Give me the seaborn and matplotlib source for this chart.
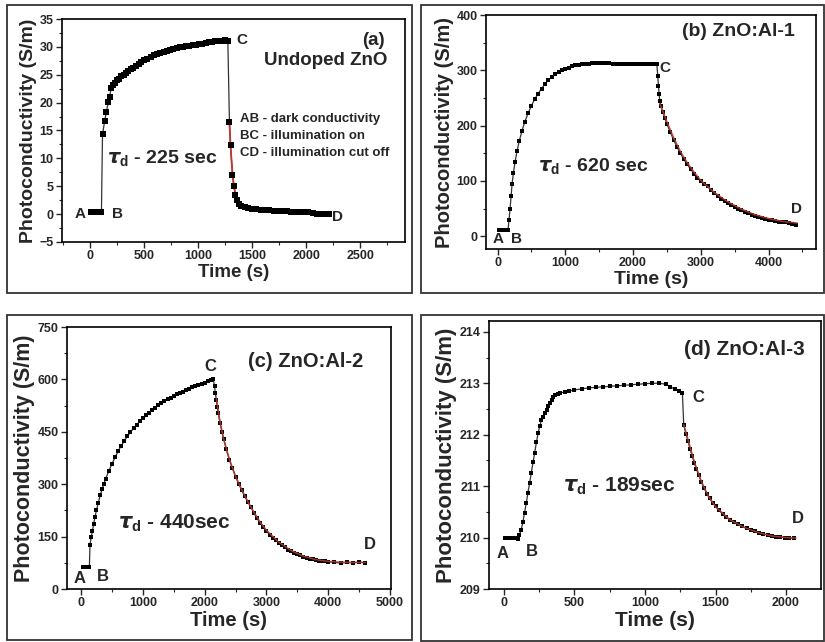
import matplotlib
matplotlib.use("Agg")
import matplotlib.pyplot as plt
from matplotlib.patches import Rectangle
from matplotlib.ticker import MultipleLocator, AutoMinorLocator
import seaborn as sns

# ---- panel (a) undoped ZnO ----
a_t = [10, 30, 50, 70, 90, 105,
       115, 135, 150, 170, 180, 195, 210, 230, 250, 270, 290, 310, 330, 350,
       375, 400, 425, 450, 475, 500, 530, 560, 590, 620, 650, 680, 710, 740,
       770, 800, 830, 860, 890, 920, 950, 980, 1010, 1040, 1070, 1100, 1130,
       1160, 1190, 1220, 1250, 1275,
       1290, 1300, 1318, 1330, 1345, 1360, 1380, 1400, 1430, 1460, 1500, 1540,
       1580, 1620, 1660, 1700, 1740, 1780, 1820, 1860, 1900, 1940, 1980, 2020,
       2060, 2100, 2140, 2180, 2210]
a_y = [0.3, 0.3, 0.3, 0.3, 0.3, 0.3,
       14.3, 16.7, 18.3, 20.2, 21.0, 22.6, 23.2, 23.6, 24.0, 24.3, 24.7, 25.0,
       25.4, 25.7, 26.0, 26.3, 26.6, 26.9, 27.3, 27.6, 27.9, 28.2, 28.5, 28.7,
       28.9, 29.1, 29.3, 29.5, 29.6, 29.8, 29.9, 30.0, 30.1, 30.2, 30.3, 30.4,
       30.5, 30.6, 30.7, 30.8, 30.9, 31.0, 31.1, 31.1, 31.2, 31.1,
       16.5, 12.4, 7.1, 5.0, 3.4, 2.5, 1.8, 1.5, 1.2, 1.1, 1.0, 0.9, 0.8, 0.75,
       0.7, 0.65, 0.6, 0.55, 0.5, 0.45, 0.4, 0.4, 0.35, 0.3, 0.2, 0.05, 0.0,
       0.05, 0.1]
a_fit_t = [1290, 1300, 1310, 1320, 1330, 1345, 1360, 1380, 1400, 1450, 1500,
           1600, 1700, 1800, 1900, 2000, 2100, 2220]
a_fit_y = [16.3, 12.3, 9.3, 7.0, 5.3, 3.6, 2.6, 1.9, 1.5, 1.1, 0.95, 0.8,
           0.65, 0.55, 0.45, 0.37, 0.3, 0.25]

# ---- panel (b) ZnO:Al-1 ----
b_t = [20, 40, 60, 80, 100, 120, 140, 155,
       170, 185, 200, 215, 235, 260, 290, 320, 360, 400, 450, 500, 550, 600,
       650, 700, 750, 800, 850, 900, 950, 1000, 1050, 1100, 1150, 1200, 1250,
       1300, 1350, 1400, 1450, 1500, 1550, 1600, 1650, 1700, 1750, 1800, 1850,
       1900, 1950, 2000, 2050, 2100, 2150, 2200, 2250, 2300, 2350,
       2365, 2375, 2385, 2395, 2410, 2440, 2470, 2500, 2550, 2600, 2650, 2700,
       2750, 2800, 2850, 2900, 2950, 3000, 3050, 3100, 3150, 3200, 3250, 3300,
       3350, 3400, 3450, 3500, 3550, 3600, 3650, 3700, 3750, 3800, 3850, 3900,
       3950, 4000, 4050, 4100, 4150, 4200, 4250, 4300, 4350, 4400]
b_y = [12, 12, 12, 12, 12, 12, 12, 12,
       30, 50, 72, 95, 115, 135, 155, 172, 190, 206, 222, 236, 248, 258, 267,
       275, 282, 288, 293, 297, 300, 303, 305, 307, 309, 310, 311, 312, 312,
       313, 313, 313, 313, 313, 313, 312, 312, 312, 312, 312, 312, 312, 312,
       312, 312, 312, 312, 312, 312,
       290, 272, 257, 245, 236, 224, 213, 203, 188, 174, 161, 150, 139, 130,
       121, 113, 106, 100, 95, 90, 84, 78, 73, 68, 64, 60, 56, 53, 50, 47, 44,
       42, 39, 37, 35, 33, 32, 30, 29, 27, 25, 26, 25, 24, 23, 21]
b_fit_t = [2395, 2500, 2600, 2700, 2800, 2900, 3000, 3200, 3400, 3600, 3800,
           4000, 4200, 4420]
b_fit_y = [240, 207, 178, 153, 133, 116, 101, 79, 62, 49, 39, 32, 27, 24]

# ---- panel (c) ZnO:Al-2 ----
c_t = [40, 60, 80, 100, 120, 135,
       145, 165, 185, 205, 225, 250, 280, 310, 340, 370, 400, 450, 500, 550,
       600, 650, 700, 750, 800, 850, 900, 950, 1000, 1050, 1100, 1150, 1200,
       1250, 1300, 1350, 1400, 1450, 1500, 1550, 1600, 1650, 1700, 1750, 1800,
       1850, 1900, 1950, 2000, 2050, 2100, 2140,
       2160, 2175, 2190, 2205, 2220, 2250, 2280, 2310, 2350, 2400, 2450, 2500,
       2550, 2600, 2650, 2700, 2750, 2800, 2850, 2900, 2950, 3000, 3050, 3100,
       3150, 3200, 3250, 3300, 3350, 3400, 3450, 3500, 3550, 3600, 3650, 3700,
       3750, 3800, 3850, 3900, 3950, 4000, 4100, 4200, 4300, 4400, 4500, 4600]
c_y = [62, 62, 62, 62, 62, 62,
       127, 148, 167, 187, 205, 226, 247, 268, 285, 301, 316, 338, 358, 377,
       394, 410, 424, 437, 449, 460, 470, 480, 489, 497, 505, 512, 519, 526,
       532, 538, 543, 548, 553, 557, 561, 565, 569, 573, 577, 581, 585, 588,
       591, 595, 598, 600,
       580, 560, 540, 520, 503, 475, 450, 428, 400, 370, 345, 322, 302, 283,
       265, 249, 234, 217, 202, 189, 177, 166, 156, 147, 139, 132, 125, 119,
       113, 108, 104, 100, 96, 93, 90, 87, 85, 83, 81, 80, 79, 78, 76, 74, 76,
       75, 77, 75]
c_fit_t = [2190, 2250, 2300, 2400, 2500, 2600, 2700, 2800, 2900, 3000, 3200,
           3400, 3600, 3800, 4000, 4200, 4400, 4600]
c_fit_y = [545, 478, 435, 372, 323, 284, 250, 219, 191, 168, 134, 110, 94,
           84, 79, 77, 76, 76]

# ---- panel (d) ZnO:Al-3 ----
d_t = [10, 25, 40, 55, 70, 85, 97,
       110, 122, 134, 146, 158, 170, 182, 194, 206, 218, 230, 242, 254, 266,
       278, 290, 302, 314, 326, 338, 350, 365, 380, 400, 430, 460, 500, 550,
       600, 650, 700, 750, 800, 850, 900, 950, 1000, 1050, 1100, 1150, 1180,
       1210, 1240, 1265,
       1275, 1290, 1305, 1320, 1335, 1350, 1365, 1380, 1400, 1420, 1440, 1460,
       1480, 1500, 1525, 1550, 1575, 1600, 1630, 1660, 1690, 1720, 1750, 1780,
       1810, 1840, 1870, 1900, 1930, 1960, 1990, 2020, 2060]
d_y = [210.0, 210.0, 210.0, 210.0, 210.0, 210.0, 209.97,
       210.05, 210.15, 210.3, 210.48, 210.67, 210.87, 211.06, 211.26, 211.46,
       211.65, 211.85, 212.03, 212.17, 212.28, 212.35, 212.42, 212.48, 212.55,
       212.62, 212.68, 212.73, 212.77, 212.79, 212.81, 212.83, 212.85, 212.87,
       212.89, 212.91, 212.92, 212.93, 212.94, 212.95, 212.96, 212.97, 212.98,
       212.99, 213.0, 213.0, 212.98, 212.93, 212.89, 212.85, 212.82,
       212.18, 212.02, 211.87, 211.72, 211.58, 211.45, 211.33, 211.22, 211.08,
       210.96, 210.85, 210.76, 210.68, 210.61, 210.53, 210.46, 210.40, 210.35,
       210.30, 210.26, 210.22, 210.18, 210.15, 210.12, 210.09, 210.07, 210.05,
       210.03, 210.02, 210.01, 210.0, 210.0, 209.99]
d_fit_t = [1275, 1300, 1350, 1400, 1450, 1500, 1600, 1700, 1800, 1900, 2000,
           2070]
d_fit_y = [212.2, 211.95, 211.47, 211.09, 210.8, 210.6, 210.35, 210.2, 210.1,
           210.03, 210.0, 209.99]

W, H = 825, 642

sns.set_style("ticks")
plt.rcParams["font.family"] = ["Liberation Sans", "DejaVu Sans"]
plt.rcParams["font.weight"] = "bold"
plt.rcParams["mathtext.fontset"] = "dejavusans"

fig = plt.figure(figsize=(W / 100, H / 100), dpi=100)


def px_axes(left, top, right, bottom):
    return fig.add_axes([left / W, 1 - bottom / H, (right - left) / W, (bottom - top) / H])


def frame(left, top, right, bottom):
    fig.add_artist(Rectangle((left / W, 1 - bottom / H), (right - left) / W, (bottom - top) / H,
                             transform=fig.transFigure, fill=False, edgecolor="#333333",
                             linewidth=1.3))


def draw_panel(ax, t, y, fit_t, fit_y, msize, fit_under):
    sns.lineplot(x=t, y=y, color="#333333", linewidth=0.9, estimator=None, sort=False,
                 ax=ax, zorder=2)
    if fit_under:
        sns.lineplot(x=fit_t, y=fit_y, color="#c0392b", linewidth=1.3, estimator=None,
                     sort=False, ax=ax, zorder=2.5)
    sns.scatterplot(x=t, y=y, marker="s", s=msize, color="black", linewidth=0, ax=ax, zorder=3)
    if not fit_under:
        sns.lineplot(x=fit_t, y=fit_y, color="#b03a2e", linewidth=1.1, estimator=None,
                     sort=False, ax=ax, zorder=4, alpha=0.9)


def style_axes(ax, xlim, ylim, xmaj, ymaj, xlab_size, ylab_size, tick_size):
    ax.set_xlim(*xlim)
    ax.set_ylim(*ylim)
    ax.xaxis.set_major_locator(MultipleLocator(xmaj))
    ax.yaxis.set_major_locator(MultipleLocator(ymaj))
    ax.xaxis.set_minor_locator(AutoMinorLocator(2))
    ax.yaxis.set_minor_locator(AutoMinorLocator(2))
    ax.tick_params(which="major", direction="out", length=4, width=1, labelsize=tick_size,
                   pad=2)
    ax.tick_params(which="minor", direction="out", length=2, width=0.8)
    for lab in ax.get_xticklabels() + ax.get_yticklabels():
        lab.set_fontweight("bold")
    for sp in ax.spines.values():
        sp.set_linewidth(1.2)
        sp.set_color("black")
    ax.set_xlabel("Time (s)", fontsize=xlab_size, fontweight="bold", labelpad=1)
    ax.set_ylabel("Photoconductivity (S/m)", fontsize=ylab_size, fontweight="bold", labelpad=2)


# frames around each sub-figure
frame(7, 5, 412, 293)
frame(421, 5, 824, 293)
frame(7, 315, 412, 640)
frame(421, 315, 824, 641)

# (a)
ax = px_axes(62, 19, 405, 242)
draw_panel(ax, a_t, a_y, a_fit_t, a_fit_y, 18, True)
style_axes(ax, (-260, 2915), (-5, 35), 500, 5, 13.5, 14, 9)
ax.text(2730, 31.2, "(a)", fontsize=13.5, ha="right", va="center")
ax.text(2748, 27.5, "Undoped ZnO", fontsize=13.5, ha="right", va="center")
ax.text(1384, 17.0, "AB - dark conductivity", fontsize=9.5, ha="left", va="center")
ax.text(1384, 14.0, "BC - illumination on", fontsize=9.5, ha="left", va="center")
ax.text(1384, 11.0, "CD - illumination cut off", fontsize=9.5, ha="left", va="center")
ax.text(152, 9.9, r"$\tau_{\mathregular{d}}$ - 225 sec", fontsize=14, ha="left", va="center")
ax.text(1409, 31.2, "C", fontsize=11, ha="center", va="center")
ax.text(2293, -0.6, "D", fontsize=11, ha="center", va="center")
ax.text(-95, 0, "A", fontsize=11, ha="center", va="center")
ax.text(255, 0, "B", fontsize=11, ha="center", va="center")

# (b)
ax = px_axes(486, 15, 816, 249)
draw_panel(ax, b_t, b_y, b_fit_t, b_fit_y, 5, False)
style_axes(ax, (-170, 4700), (-23, 400), 1000, 100, 14, 14.5, 9)
ax.text(4390, 370, "(b) ZnO:Al-1", fontsize=14, ha="right", va="center")
ax.text(600, 125, r"$\tau_{\mathregular{d}}$ - 620 sec", fontsize=14, ha="left", va="center")
ax.text(2470, 305, "C", fontsize=11, ha="center", va="center")
ax.text(4415, 50, "D", fontsize=11, ha="center", va="center")
ax.text(15, -5, "A", fontsize=11, ha="center", va="center")
ax.text(278, -5, "B", fontsize=11, ha="center", va="center")

# (c)
ax = px_axes(67, 327, 391, 589)
draw_panel(ax, c_t, c_y, c_fit_t, c_fit_y, 5, False)
style_axes(ax, (-227, 5016), (0, 750), 1000, 150, 14.5, 15.5, 9)
ax.text(4560, 652, "(c) ZnO:Al-2", fontsize=14.5, ha="right", va="center")
ax.text(601, 187, r"$\tau_{\mathregular{d}}$ - 440sec", fontsize=15, ha="left", va="center")
ax.text(2087, 636, "C", fontsize=12, ha="center", va="center")
ax.text(4678, 127, "D", fontsize=12, ha="center", va="center")
ax.text(-16, 31, "A", fontsize=12, ha="center", va="center")
ax.text(349, 36, "B", fontsize=12, ha="center", va="center")

# (d)
ax = px_axes(489, 321, 821, 589)
draw_panel(ax, d_t, d_y, d_fit_t, d_fit_y, 5, False)
style_axes(ax, (-106, 2248), (209, 214.21), 500, 1, 15, 16, 9)
ax.text(2134, 213.65, "(d) ZnO:Al-3", fontsize=15, ha="right", va="center")
ax.text(417, 211.0, r"$\tau_{\mathregular{d}}$ - 189sec", fontsize=15, ha="left", va="center")
ax.text(1379, 212.72, "C", fontsize=12, ha="center", va="center")
ax.text(2082, 210.37, "D", fontsize=12, ha="center", va="center")
ax.text(-12, 209.69, "A", fontsize=12, ha="center", va="center")
ax.text(199, 209.72, "B", fontsize=12, ha="center", va="center")

fig.savefig("out.png", dpi=100)
